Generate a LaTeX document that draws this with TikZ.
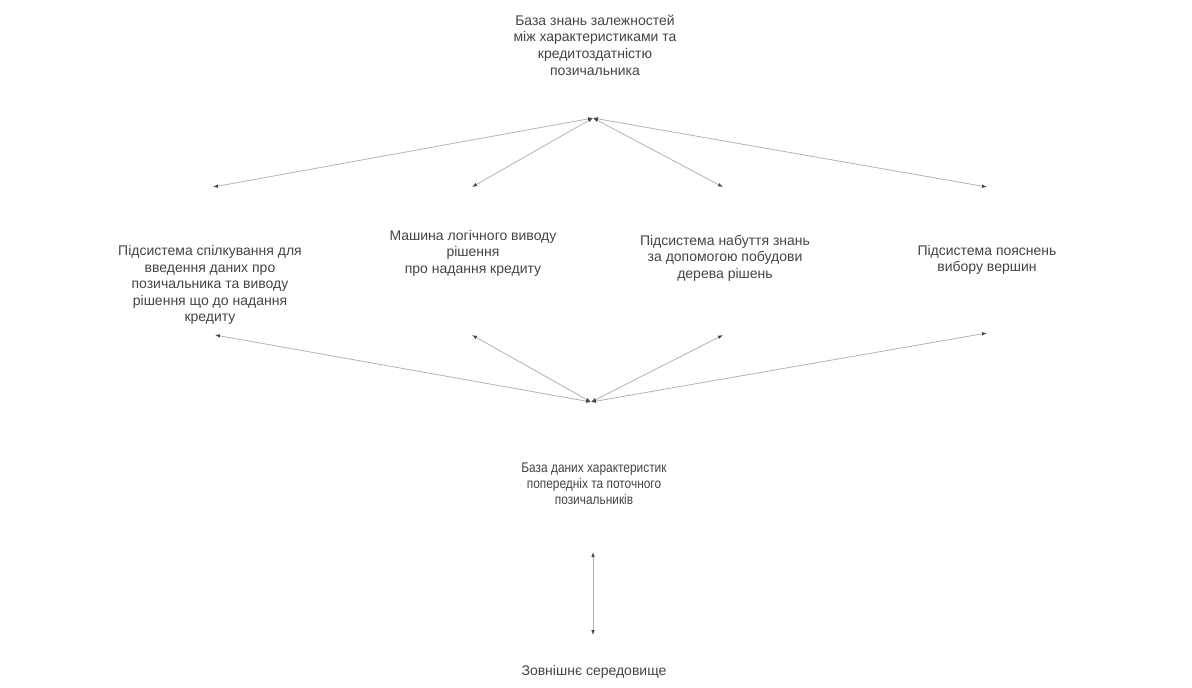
\documentclass[tikz,border=0pt]{standalone}
\usepackage{fontspec}
\setmainfont{Liberation Sans}
\newfontfamily\narrowsans[FakeStretch=0.85]{Liberation Sans}
\usetikzlibrary{arrows.meta}
\definecolor{inkgray}{HTML}{444444}
\definecolor{linegray}{HTML}{B2B2B2}

\begin{document}
\begin{tikzpicture}[x=0.5pt, y=-0.5pt, font=\fontsize{7}{8.3}\selectfont]
\tikzset{block/.style={align=center, text=inkgray, inner sep=0pt},
  link/.style={draw=linegray, line width=0.4pt,
    {Latex[length=2.5pt,width=1.8pt,color=inkgray]}-{Latex[length=2.5pt,width=1.8pt,color=inkgray]}}}
\useasboundingbox (0,0) rectangle (1192,687);
\node[block] (kb) at (595,45) {База знань залежностей\\між характеристиками та\\кредитоздатністю\\позичальника};
\node[block] (comm) at (210,285) {Підсистема спілкування для\\введення даних про\\позичальника та виводу\\рішення що до надання\\кредиту};
\node[block] (infer) at (473,253) {Машина логічного виводу\\рішення\\про надання кредиту};
\node[block] (learn) at (725,258) {Підсистема набуття знань\\за допомогою побудови\\дерева рішень};
\node[block] (expl) at (987,260) {Підсистема пояснень\\вибору вершин};
\node[block, font=\narrowsans\fontsize{7}{8}\selectfont] (db) at (594,484) {База даних характеристик\\попередніх та поточного\\позичальників};
\node[block] (env) at (594,672) {Зовнішнє середовище};

% points where the fan lines meet
\coordinate (hubtop) at (593,118);
\coordinate (hubbot) at (591,402);
\coordinate (comm-in) at (213,187);   \coordinate (comm-out) at (215,335);
\coordinate (infer-in) at (472,187);  \coordinate (infer-out) at (472,335);
\coordinate (learn-in) at (723,187);  \coordinate (learn-out) at (723,335);
\coordinate (expl-in) at (987,187);   \coordinate (expl-out) at (987,333);
\coordinate (db-out) at (593,552);
\coordinate (env-in) at (593,635);

\foreach \n in {comm,infer,learn,expl} {
  \draw[link] (hubtop) -- (\n-in);
  \draw[link] (\n-out) -- (hubbot);
}
\draw[link] (db-out) -- (env-in);
\end{tikzpicture}
\end{document}
